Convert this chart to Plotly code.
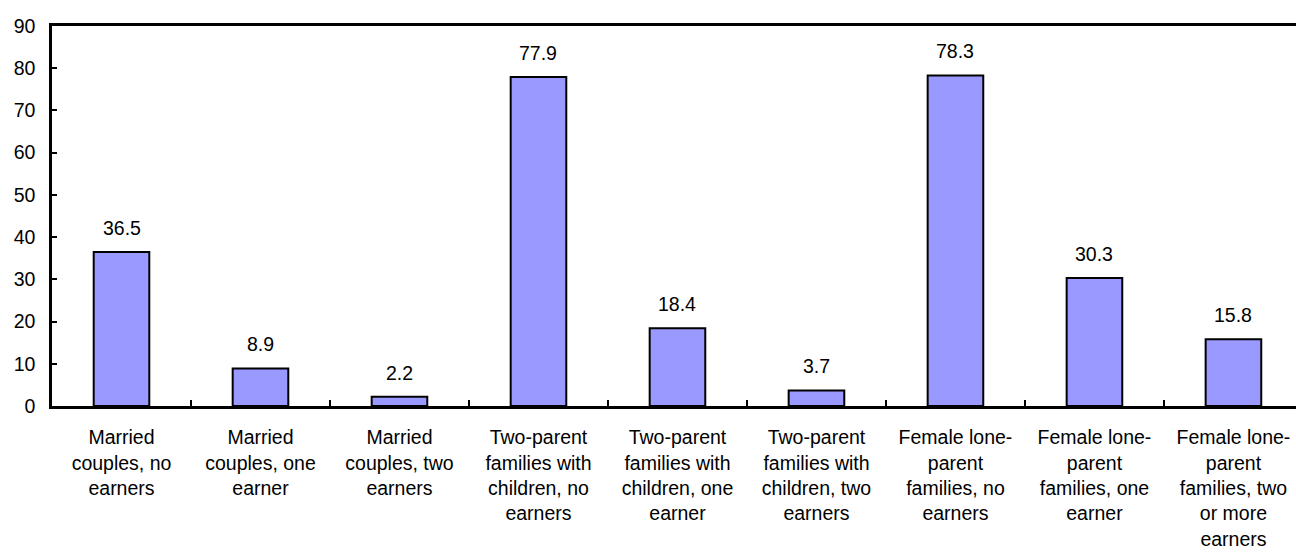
import plotly.graph_objects as go

categories = [
    "Married<br>couples, no<br>earners",
    "Married<br>couples, one<br>earner",
    "Married<br>couples, two<br>earners",
    "Two-parent<br>families with<br>children, no<br>earners",
    "Two-parent<br>families with<br>children, one<br>earner",
    "Two-parent<br>families with<br>children, two<br>earners",
    "Female lone-<br>parent<br>families, no<br>earners",
    "Female lone-<br>parent<br>families, one<br>earner",
    "Female lone-<br>parent<br>families, two<br>or more<br>earners",
]
values = [36.5, 8.9, 2.2, 77.9, 18.4, 3.7, 78.3, 30.3, 15.8]
y_ticks = [0, 10, 20, 30, 40, 50, 60, 70, 80, 90]

FONT = "Liberation Sans, Arial, sans-serif"
FS = 19.5

fig = go.Figure()
fig.add_trace(go.Bar(
    x=categories,
    y=values,
    width=0.4,
    marker=dict(color="#9999FF", line=dict(color="black", width=2)),
    showlegend=False,
))

for c, v in zip(categories, values):
    fig.add_annotation(
        x=c, y=v, text=f"{v:.1f}", showarrow=False,
        yanchor="bottom", yshift=11,
        font=dict(family=FONT, size=FS, color="black"),
    )

fig.update_layout(
    width=1296, height=552,
    margin=dict(l=52, r=0, t=26, b=146),
    paper_bgcolor="white", plot_bgcolor="white",
    font=dict(family=FONT, size=FS, color="black"),
    bargap=0.6,
)
fig.update_xaxes(
    type="category",
    range=[-0.5, 8.45],
    showline=True, linecolor="black", linewidth=2.5, mirror=True,
    ticks="inside", tickson="boundaries", ticklen=6, tickwidth=2, tickcolor="black",
    showgrid=False, zeroline=False,
    tickangle=0,
    ticklabelstandoff=12,
    tickfont=dict(family=FONT, size=FS, color="black"),
)
fig.update_yaxes(
    range=[0, 90],
    tickvals=y_ticks,
    showline=True, linecolor="black", linewidth=2.5,
    ticks="inside", ticklen=5, tickwidth=2, tickcolor="black",
    showgrid=False, zeroline=False,
    ticklabelstandoff=10,
    tickfont=dict(family=FONT, size=FS, color="black"),
)

fig.write_html("out.html")
